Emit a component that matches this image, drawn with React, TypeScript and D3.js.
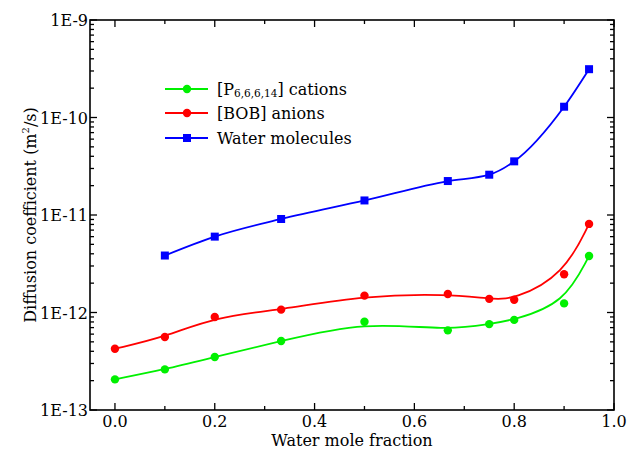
import React from 'react';
import * as d3 from 'd3';

const xValues = [0, 0.1, 0.2, 0.333, 0.5, 0.667, 0.75, 0.8, 0.9, 0.95];
const cations = [2.06e-13, 2.61e-13, 3.5e-13, 5.1e-13, 8.05e-13, 6.56e-13, 7.6e-13, 8.4e-13, 1.24e-12, 3.8e-12];
const anions = [4.25e-13, 5.6e-13, 9.0e-13, 1.07e-12, 1.49e-12, 1.55e-12, 1.38e-12, 1.35e-12, 2.47e-12, 8.1e-12];
const waterX = [0.1, 0.2, 0.333, 0.5, 0.667, 0.75, 0.8, 0.9, 0.95];
const water = [3.84e-12, 6.0e-12, 9.1e-12, 1.41e-11, 2.23e-11, 2.59e-11, 3.55e-11, 1.29e-10, 3.13e-10];

const xTicks = [0, 0.2, 0.4, 0.6, 0.8, 1.0];
const xMinorTicks = [0.1, 0.3, 0.5, 0.7, 0.9];
const yTicks = [1e-13, 1e-12, 1e-11, 1e-10, 1e-9];
const yTickLabels = ['1E-13', '1E-12', '1E-11', '1E-10', '1E-9'];

const W = 627, H = 451;
const left = 90, right = 614, top = 20, bottom = 410;
const FONT = "DejaVu Serif";

const GREEN = '#00f000';
const RED = '#ff0000';
const BLUE = '#0000ff';

export default function App() {
  const x = d3.scaleLinear().domain([-0.05, 1.0]).range([left, right]);
  const y = d3.scaleLog().domain([1e-13, 1e-9]).range([bottom, top]);

  const yMinor: number[] = [];
  for (let e = -13; e < -9; e++) {
    for (let m = 2; m <= 9; m++) yMinor.push(m * Math.pow(10, e));
  }

  const basisLine = d3.line<[number, number]>()
    .x(d => x(d[0])).y(d => y(d[1])).curve(d3.curveBasis);
  const interpLine = d3.line<[number, number]>()
    .x(d => x(d[0])).y(d => y(d[1])).curve(d3.curveMonotoneX);

  const catPts = xValues.map((v, i) => [v, cations[i]] as [number, number]);
  const anPts = xValues.map((v, i) => [v, anions[i]] as [number, number]);
  const wPts = waterX.map((v, i) => [v, water[i]] as [number, number]);

  const major = 7, minor = 4;
  const fs = 16;

  return (
    <svg width={W} height={H} style={{ position: 'absolute', left: 0, top: 0, background: '#fff' }}>
      {/* ticks */}
      <g stroke="#000" strokeWidth={1.3}>
        {xTicks.map(t => (
          <g key={'xt' + t}>
            <line x1={x(t)} x2={x(t)} y1={bottom} y2={bottom - major} />
            <line x1={x(t)} x2={x(t)} y1={top} y2={top + major} />
          </g>
        ))}
        {xMinorTicks.map(t => (
          <g key={'xm' + t}>
            <line x1={x(t)} x2={x(t)} y1={bottom} y2={bottom - minor} />
            <line x1={x(t)} x2={x(t)} y1={top} y2={top + minor} />
          </g>
        ))}
        {yTicks.map(t => (
          <g key={'yt' + t}>
            <line x1={left} x2={left + major} y1={y(t)} y2={y(t)} />
            <line x1={right} x2={right - major} y1={y(t)} y2={y(t)} />
          </g>
        ))}
        {yMinor.map(t => (
          <g key={'ym' + t}>
            <line x1={left} x2={left + minor} y1={y(t)} y2={y(t)} />
            <line x1={right} x2={right - minor} y1={y(t)} y2={y(t)} />
          </g>
        ))}
      </g>
      <rect x={left} y={top} width={right - left} height={bottom - top} fill="none" stroke="#000" strokeWidth={1.6} />

      <g style={{ fontFamily: FONT }} fill="#000">
        {/* tick labels */}
        <g fontSize={fs}>
          {xTicks.map(t => (
            <text key={'xl' + t} x={x(t)} y={bottom + 17} textAnchor="middle">{t.toFixed(1)}</text>
          ))}
          {yTicks.map((t, i) => (
            <text key={'yl' + t} x={left - 2} y={y(t) + 6} textAnchor="end">{yTickLabels[i]}</text>
          ))}
        </g>

        {/* axis titles */}
        <text x={(left + right) / 2} y={446} textAnchor="middle" fontSize={fs}>Water mole fraction</text>
        <text transform={`translate(36, ${(top + bottom) / 2}) rotate(-90)`} textAnchor="middle" fontSize={fs}>
          Diffusion coefficient (m<tspan fontSize={10} dy={-7}>2</tspan><tspan dy={7}>/s)</tspan>
        </text>
      </g>

      {/* series */}
      <path d={basisLine(catPts) || ''} fill="none" stroke={GREEN} strokeWidth={1.8} />
      <path d={basisLine(anPts) || ''} fill="none" stroke={RED} strokeWidth={1.8} />
      <path d={interpLine(wPts) || ''} fill="none" stroke={BLUE} strokeWidth={1.8} />
      {catPts.map((d, i) => <circle key={'c' + i} cx={x(d[0])} cy={y(d[1])} r={4.2} fill={GREEN} />)}
      {anPts.map((d, i) => <circle key={'a' + i} cx={x(d[0])} cy={y(d[1])} r={4.2} fill={RED} />)}
      {wPts.map((d, i) => <rect key={'w' + i} x={x(d[0]) - 4} y={y(d[1]) - 4} width={8} height={8} fill={BLUE} />)}

      {/* legend */}
      <g fontSize={fs} style={{ fontFamily: FONT }}>
        <line x1={165} x2={208} y1={89} y2={89} stroke={GREEN} strokeWidth={1.8} />
        <circle cx={187} cy={89} r={4.2} fill={GREEN} />
        <text x={217} y={95}>[P<tspan fontSize={10.5} dy={2}>6,6,6,14</tspan><tspan dy={-2}>] cations</tspan></text>
        <line x1={165} x2={208} y1={113} y2={113} stroke={RED} strokeWidth={1.8} />
        <circle cx={187} cy={113} r={4.2} fill={RED} />
        <text x={217} y={119}>[BOB] anions</text>
        <line x1={165} x2={208} y1={138} y2={138} stroke={BLUE} strokeWidth={1.8} />
        <rect x={183} y={134} width={8} height={8} fill={BLUE} />
        <text x={217} y={144}>Water molecules</text>
      </g>
    </svg>
  );
}
